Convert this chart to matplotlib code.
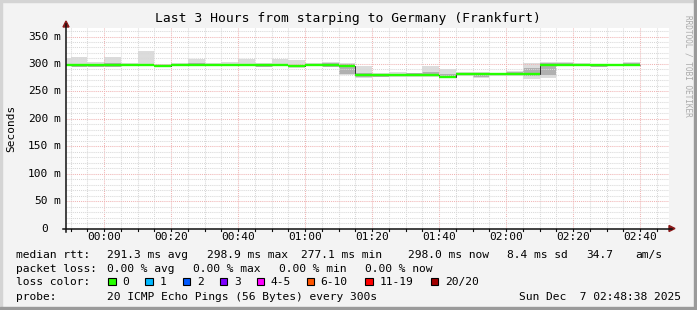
"""SmokePing style latency chart: last 3 hours starping -> Frankfurt."""
import matplotlib
matplotlib.use("Agg")
import matplotlib.pyplot as plt
from matplotlib.patches import Polygon, Rectangle
import numpy as np

W, H = 697, 310

# step start times, minutes from 00:00 (5 minute steps, last one ends at 160)
step_t = list(range(-15, 160, 5))
median = [297.5, 297.2, 297.5, 298.5, 298.0, 297.8, 296.0, 297.6, 297.6, 297.4,
          297.5, 297.4, 298.5, 297.8, 295.8, 297.6, 298.6, 296.8, 279.0, 279.2,
          279.3, 279.5, 279.6, 277.1, 280.8, 280.9, 281.0, 282.0, 281.2, 297.6,
          298.9, 298.8, 297.3, 297.2, 298.0]
smoke_lo = [299, 296, 295, 294, 296, 296, 294, 296, 296, 296,
            296, 296, 295, 296, 293, 296, 294, 279, 275, 276,
            277, 277, 277, 274, 278, 274, 278, 278, 273, 274,
            298, 297, 294, 296, 296]
smoke_hi = [310, 312, 303, 312, 302, 324, 300, 302, 309, 302,
            303, 309, 302, 309, 307, 302, 303, 301, 296, 283,
            285, 284, 297, 290, 286, 285, 284, 288, 301, 304,
            304, 302, 300, 300, 304]
core_lo = [296, 295, 294, 294, 297, 296, 295, 296, 296, 296,
           296, 296, 295, 296, 294, 296, 295, 281, 277, 277,
           278, 278, 278, 276, 279, 276, 279, 279, 278, 280,
           298, 297, 295, 296, 297]
core_hi = [300, 300, 300, 301, 300, 300, 299, 300, 301, 300,
           300, 300, 300, 300, 299, 300, 301, 300, 283, 282,
           282, 283, 285, 282, 283, 283, 283, 285, 293, 302,
           302, 300, 299, 299, 302]

xtick_t = [0, 20, 40, 60, 80, 100, 120, 140, 160]
xtick_labels = ["00:00", "00:20", "00:40", "01:00", "01:20", "01:40", "02:00", "02:20", "02:40"]
ytick_v = [0, 50, 100, 150, 200, 250, 300, 350]
ytick_num = ["0", "50", "100", "150", "200", "250", "300", "350"]

loss_labels = ["0", "1", "2", "3", "4-5", "6-10", "11-19", "20/20"]
loss_colors = ["#26ff00", "#00b8ff", "#0059ff", "#7e00ff", "#ff00ff", "#ff5500", "#ff0000", "#a10000"]

MONO = "DejaVu Sans Mono"
plt.rcParams["font.family"] = MONO


def fx(x):
    return x / W


def fy(y):
    return 1 - y / H


fig = plt.figure(figsize=(W / 100, H / 100), dpi=100, facecolor="#f3f3f3")

# 3D frame
fig.patches.append(Rectangle((0, 0), fx(2), 1, transform=fig.transFigure, color="#d4d4d4"))
fig.patches.append(Rectangle((0, fy(2)), 1, 2 / H, transform=fig.transFigure, color="#d4d4d4"))
fig.patches.append(Rectangle((fx(W - 3), 0), fx(3), 1, transform=fig.transFigure, color="#9a9a9a"))
fig.patches.append(Rectangle((0, 0), 1, 3 / H, transform=fig.transFigure, color="#9a9a9a"))

L, R, T, B = 66, 669, 28.3, 228.5
ax = fig.add_axes([fx(L), fy(B), fx(R - L), (B - T) / H])
ax.set_facecolor("white")
x0, x1 = -11.37, 168.63
ax.set_xlim(x0, x1)
ax.set_ylim(0, 365)

edges = np.array(step_t + [160])
ax.stairs(smoke_hi, edges, baseline=smoke_lo, fill=True, color="#dcdcdc", zorder=1)
ax.stairs(core_hi, edges, baseline=core_lo, fill=True, color="#b0b0b0", zorder=1.2)

# grid drawn over the smoke
for t in range(-10, 170, 5):
    major = t % 20 == 0
    ax.axvline(t, color="#f0b4b4" if major else "#d8d8d8", lw=0.75,
               ls=(0, (1, 1)), zorder=2)
for v in range(10, 370, 10):
    major = v % 50 == 0
    ax.axhline(v, color="#f0b4b4" if major else "#d8d8d8", lw=0.75,
               ls=(0, (1, 1)), zorder=2)

# median: thin dark connectors, then loss coloured segments
ax.stairs(median, edges, baseline=None, color="#303030", lw=0.7, zorder=3)
ax.hlines(median, edges[:-1], edges[1:], color=loss_colors[0], lw=1.7, zorder=4)

for s in ["top", "right", "left", "bottom"]:
    ax.spines[s].set_visible(False)
ax.set_xticks([])
ax.set_yticks([])

# axes lines with small overhang, ticks and arrows
ax_col = "#101010"
fig.add_artist(plt.Line2D([fx(L - 3), fx(672)], [fy(B), fy(B)], color=ax_col, lw=1.1))
fig.add_artist(plt.Line2D([fx(L), fx(L)], [fy(B + 3), fy(24)], color=ax_col, lw=1.1))
for t in range(-10, 170, 5):
    px = L + (t - x0) / (x1 - x0) * (R - L)
    fig.add_artist(plt.Line2D([fx(px), fx(px)], [fy(B), fy(B + 2.5)], color=ax_col, lw=0.8))
arrow_col = "#8b1a1a"
fig.patches.append(Polygon([[fx(L - 3), fy(27)], [fx(L + 3), fy(27)], [fx(L), fy(21)]],
                           closed=True, transform=fig.transFigure, color=arrow_col))
fig.patches.append(Polygon([[fx(669), fy(B - 3)], [fx(669), fy(B + 3)], [fx(675), fy(B)]],
                           closed=True, transform=fig.transFigure, color=arrow_col))

# tick labels
for t, lab in zip(xtick_t, xtick_labels):
    px = L + (t - x0) / (x1 - x0) * (R - L)
    fig.text(fx(px), fy(237.5), lab, ha="center", va="center", fontsize=8, family=MONO)
for v, num in zip(ytick_v, ytick_num):
    py = B - v / 365 * (B - T)
    fig.text(fx(48), fy(py), num, ha="right", va="center", fontsize=8, family=MONO)
    if v:
        fig.text(fx(53.5), fy(py), "m", ha="left", va="center", fontsize=8, family=MONO)

fig.text(fx(11), fy(128), "Seconds", rotation=90, ha="center", va="center",
         fontsize=8, family=MONO)
fig.text(fx(348), fy(18.5), "Last 3 Hours from starping to Germany (Frankfurt)",
         ha="center", va="center", fontsize=9.4, family=MONO)
fig.text(fx(688), fy(66), "RRDTOOL / TOBI OETIKER", rotation=270, ha="center",
         va="center", fontsize=5.6, color="#aaaaaa", family=MONO)

# legend
fs = 8.1
rows_y = [255, 268.7, 281.7, 296.7]
row1 = [(16, "median rtt:"), (107.3, "291.3 ms avg"), (207.3, "298.9 ms max"),
        (301, "277.1 ms min"), (407.7, "298.0 ms now"), (506.7, "8.4 ms sd"),
        (586, "34.7"), (635, "am/s")]
row2 = [(16, "packet loss:"), (107.3, "0.00 % avg"), (193.3, "0.00 % max"),
        (279.3, "0.00 % min"), (365, "0.00 % now")]
for x, s in row1:
    fig.text(fx(x), fy(rows_y[0]), s, ha="left", va="center", fontsize=fs, family=MONO)
for x, s in row2:
    fig.text(fx(x), fy(rows_y[1]), s, ha="left", va="center", fontsize=fs, family=MONO)

fig.text(fx(16), fy(rows_y[2]), "loss color:", ha="left", va="center", fontsize=fs, family=MONO)
box_x = [108.3, 145.3, 182.7, 220, 256.7, 306.7, 365.3, 430.7]
for bx, lab, col in zip(box_x, loss_labels, loss_colors):
    fig.patches.append(Rectangle((fx(bx), fy(rows_y[2] + 3.5)), fx(7.5), 7.5 / H,
                                 transform=fig.transFigure, fc=col, ec="black", lw=0.8))
    fig.text(fx(bx + 14), fy(rows_y[2]), lab, ha="left", va="center", fontsize=fs, family=MONO)

fig.text(fx(16), fy(rows_y[3]), "probe:", ha="left", va="center", fontsize=fs, family=MONO)
fig.text(fx(107.3), fy(rows_y[3]), "20 ICMP Echo Pings (56 Bytes) every 300s",
         ha="left", va="center", fontsize=fs, family=MONO)
fig.text(fx(681), fy(rows_y[3]), "Sun Dec  7 02:48:38 2025", ha="right", va="center",
         fontsize=fs, family=MONO)

fig.savefig("out.png", dpi=100, facecolor=fig.get_facecolor())
plt.close(fig)
